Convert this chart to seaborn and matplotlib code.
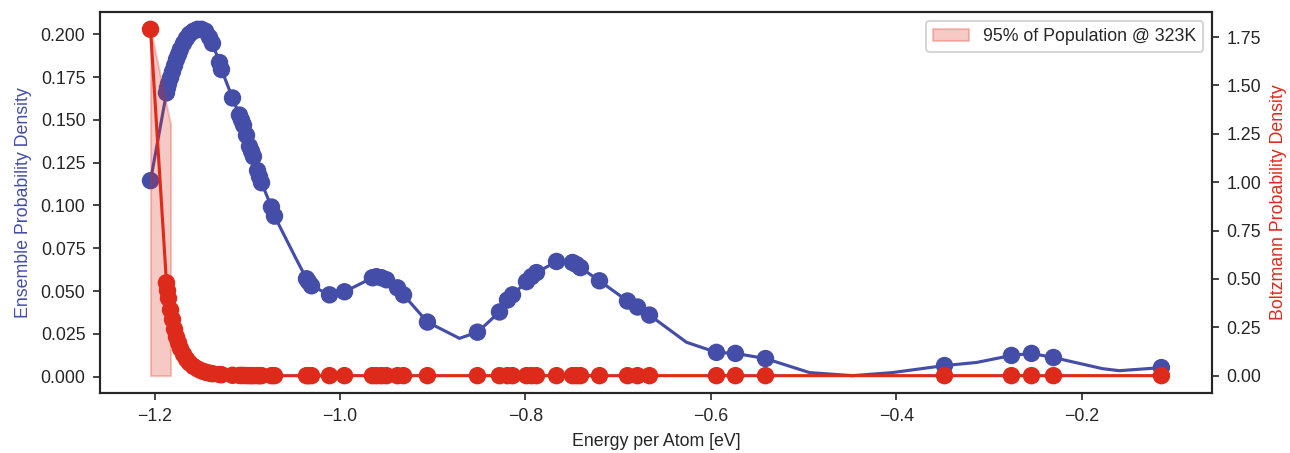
import numpy as np
import pandas as pd
import seaborn as sns
from matplotlib import pyplot as plt

# sample energies per atom [eV] and the two densities at those samples
energy = [-1.2043, -1.1871, -1.1860, -1.1849, -1.1827, -1.1806, -1.1784, -1.1763,
          -1.1741, -1.1720, -1.1687, -1.1655, -1.1623, -1.1580, -1.1536, -1.1493,
          -1.1450, -1.1407, -1.1375, -1.1299, -1.1278, -1.1159, -1.1084, -1.1062,
          -1.1040, -1.1008, -1.0976, -1.0954, -1.0933, -1.0889, -1.0868, -1.0846,
          -1.0739, -1.0706, -1.0361, -1.0340, -1.0307, -1.0113, -0.9951, -0.9650,
          -0.9607, -0.9553, -0.9499, -0.9380, -0.9315, -0.9057, -0.8518, -0.8280,
          -0.8194, -0.8140, -0.7989, -0.7935, -0.7881, -0.7665, -0.7493, -0.7450,
          -0.7407, -0.7202, -0.6900, -0.6792, -0.6663, -0.5941, -0.5736, -0.5412,
          -0.3482, -0.2760, -0.2544, -0.2307, -0.1143]
ensemble = [0.1145, 0.1658, 0.1687, 0.1711, 0.1746, 0.1782, 0.1817, 0.1853,
            0.1882, 0.1912, 0.1947, 0.1976, 0.2000, 0.2018, 0.2029, 0.2029,
            0.2018, 0.1982, 0.1947, 0.1835, 0.1794, 0.1628, 0.1528, 0.1499,
            0.1469, 0.1410, 0.1345, 0.1316, 0.1286, 0.1204, 0.1168, 0.1133,
            0.0991, 0.0938, 0.0572, 0.0555, 0.0531, 0.0478, 0.0496, 0.0578,
            0.0584, 0.0578, 0.0566, 0.0519, 0.0478, 0.0319, 0.0260, 0.0378,
            0.0448, 0.0478, 0.0555, 0.0584, 0.0608, 0.0673, 0.0667, 0.0655,
            0.0637, 0.0560, 0.0442, 0.0407, 0.0360, 0.0142, 0.0136, 0.0106,
            0.0065, 0.0124, 0.0136, 0.0112, 0.0053]
boltzmann = [1.79, 0.48, 0.44, 0.40, 0.34, 0.29, 0.24, 0.20,
             0.17, 0.14, 0.11, 0.085, 0.066, 0.048, 0.035, 0.025,
             0.018, 0.013, 0.010, 0.006, 0.005, 0.002, 0.001, 0.001,
             0.001, 0.0005, 0.0004, 0.0003, 0.0003, 0.0002, 0.0002, 0.0001,
             0.0, 0.0, 0.0, 0.0, 0.0, 0.0, 0.0, 0.0,
             0.0, 0.0, 0.0, 0.0, 0.0, 0.0, 0.0, 0.0,
             0.0, 0.0, 0.0, 0.0, 0.0, 0.0, 0.0, 0.0,
             0.0, 0.0, 0.0, 0.0, 0.0, 0.0, 0.0, 0.0,
             0.0, 0.0, 0.0, 0.0, 0.0]

# grid points of the ensemble curve that carry no sample marker
grid_energy = [-1.0469, -0.8712, -0.6264, -0.4938, -0.4474, -0.4043, -0.3137, -0.1779, -0.1596]
grid_density = [0.0684, 0.0224, 0.0201, 0.0024, 0.0006, 0.0024, 0.0083, 0.0047, 0.0035]

# 95 % population window
window_energy = [-1.2043, -1.1827]
window_top = [1.79, 1.30]

blue = '#444ea8'
red = '#de2a1a'

samples = pd.DataFrame({'energy': energy, 'ensemble': ensemble, 'boltzmann': boltzmann})
curve = pd.concat([
    samples[['energy', 'ensemble']],
    pd.DataFrame({'energy': grid_energy, 'ensemble': grid_density}),
]).sort_values('energy')

sns.set_style('ticks')
plt.rcParams['font.family'] = ['Liberation Sans', 'DejaVu Sans']

fig, ax1 = plt.subplots(figsize=(8.6, 3.02), dpi=150)
fig.subplots_adjust(left=0.0775, right=0.9395, bottom=0.1325, top=0.9735)

sns.lineplot(data=curve, x='energy', y='ensemble', ax=ax1, color=blue, lw=1.5, sort=False)
sns.scatterplot(data=samples, x='energy', y='ensemble', ax=ax1, color=blue, s=70,
                edgecolor='none', zorder=3)
ax1.set_xlabel('Energy per Atom [eV]', fontsize=8.5)
ax1.set_ylabel('Ensemble Probability Density', color=blue, fontsize=8.5)

ax2 = ax1.twinx()
ax2.fill_between(window_energy, 0, window_top, color=red, alpha=0.25,
                 label='95% of Population @ 323K')
sns.lineplot(data=samples, x='energy', y='boltzmann', ax=ax2, color=red, lw=1.5, sort=True)
sns.scatterplot(data=samples, x='energy', y='boltzmann', ax=ax2, color=red, s=70,
                edgecolor='none', zorder=3)
ax2.set_ylabel('Boltzmann Probability Density', color=red, fontsize=8.5)

for ax in (ax1, ax2):
    ax.tick_params(labelsize=8.5)
    for s in ax.spines.values():
        s.set_linewidth(1)
ax1.set_yticks(np.arange(0, 0.201, 0.025))
ax2.set_yticks(np.arange(0, 1.76, 0.25))
ax2.legend(loc='upper right', fontsize=8.5)

plt.savefig('out.png', dpi=150)
